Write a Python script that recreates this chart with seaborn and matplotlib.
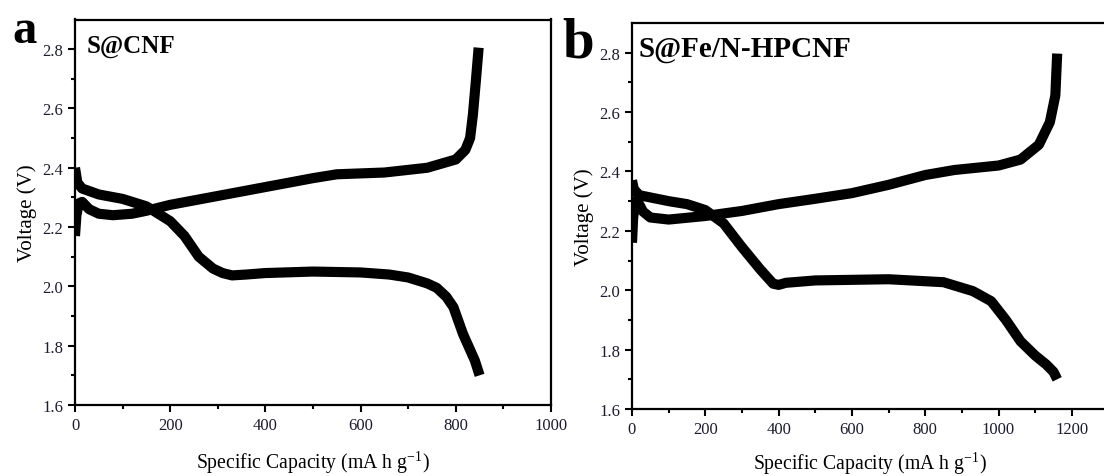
import numpy as np
import pandas as pd
import seaborn as sns
import matplotlib
matplotlib.use("Agg")
import matplotlib.pyplot as plt

# ---------------- data ----------------
# Panel a : S@CNF
a_dis_cap = [0, 5, 15, 50, 100, 150, 200, 230, 260, 290, 310, 330, 360, 400, 500, 600, 660, 700, 740, 760, 780, 795, 815, 840, 850]
a_dis_v   = [2.40, 2.35, 2.33, 2.31, 2.295, 2.27, 2.22, 2.17, 2.10, 2.06, 2.045, 2.037, 2.04, 2.045, 2.05, 2.047, 2.04, 2.03, 2.01, 1.995, 1.965, 1.93, 1.84, 1.75, 1.70]
a_chg_cap = [0, 3, 8, 15, 30, 50, 80, 120, 150, 200, 300, 400, 500, 550, 650, 740, 800, 820, 830, 836, 842, 848]
a_chg_v   = [2.17, 2.24, 2.28, 2.285, 2.26, 2.245, 2.24, 2.245, 2.255, 2.275, 2.305, 2.335, 2.365, 2.378, 2.384, 2.40, 2.428, 2.46, 2.50, 2.58, 2.69, 2.805]

# Panel b : S@Fe/N-HPCNF
b_dis_cap = [0, 5, 20, 100, 150, 200, 250, 300, 350, 385, 400, 420, 500, 700, 850, 930, 980, 1020, 1060, 1100, 1130, 1150, 1160]
b_dis_v   = [2.37, 2.34, 2.32, 2.30, 2.29, 2.27, 2.225, 2.145, 2.07, 2.022, 2.018, 2.025, 2.033, 2.037, 2.027, 1.997, 1.963, 1.90, 1.828, 1.78, 1.75, 1.725, 1.70]
b_chg_cap = [0, 3, 8, 15, 30, 50, 100, 200, 300, 400, 500, 600, 700, 800, 880, 1000, 1060, 1110, 1140, 1155, 1160]
b_chg_v   = [2.16, 2.24, 2.30, 2.30, 2.265, 2.245, 2.238, 2.25, 2.267, 2.29, 2.308, 2.327, 2.355, 2.388, 2.405, 2.42, 2.44, 2.49, 2.566, 2.656, 2.797]

panel_letters = ["a", "b"]
panel_titles = ["S@CNF", "S@Fe/N-HPCNF"]
x_limits = [(0, 1000), (0, 1300)]
x_ticks = [[0, 200, 400, 600, 800, 1000], [0, 200, 400, 600, 800, 1000, 1200]]
y_ticks = [1.6, 1.8, 2.0, 2.2, 2.4, 2.6, 2.8]
x_label = "Specific Capacity (mA h g$^{\\mathregular{-1}}$)"
y_label = "Voltage (V)"

# ---------------- figure ----------------
sns.set_theme(style="ticks")
plt.rcParams["font.family"] = ["Liberation Serif", "DejaVu Serif"]
plt.rcParams["mathtext.fontset"] = "custom"
plt.rcParams["mathtext.rm"] = "Liberation Serif"

W, H = 1104, 477
fig = plt.figure(figsize=(W / 100, H / 100), dpi=100)

def px_axes(left, right, top, bottom):
    return [left / W, 1 - bottom / H, (right - left) / W, (bottom - top) / H]

ax_a = fig.add_axes(px_axes(75, 551, 20.5, 406))
ax_b = fig.add_axes(px_axes(632, 1108.5, 24, 410))

panels = [
    (ax_a, a_dis_cap, a_dis_v, a_chg_cap, a_chg_v),
    (ax_b, b_dis_cap, b_dis_v, b_chg_cap, b_chg_v),
]
xlabel_y = [-0.112, -0.105]

tick_color = "#1c1c30"
for i, (ax, dc, dv, cc, cv) in enumerate(panels):
    df = pd.concat([
        pd.DataFrame({"cap": dc, "v": dv, "curve": "discharge"}),
        pd.DataFrame({"cap": cc, "v": cv, "curve": "charge"}),
    ], ignore_index=True)
    sns.lineplot(data=df, x="cap", y="v", units="curve", estimator=None, sort=False,
                 color="black", linewidth=7.3, ax=ax, legend=False,
                 solid_capstyle="butt", solid_joinstyle="round")
    ax.set_xlim(*x_limits[i])
    ax.set_ylim(1.6, 2.9)
    ax.set_xticks(x_ticks[i])
    ax.set_yticks(y_ticks)
    ax.set_xticks([t + 100 for t in x_ticks[i]][:-1] + ([1300] if i == 1 else []), minor=True)
    ax.set_yticks([1.7, 1.9, 2.1, 2.3, 2.5, 2.7], minor=True)
    ax.set_xticklabels([str(t) for t in x_ticks[i]])
    ax.set_yticklabels([f"{t:.1f}" for t in y_ticks])
    ax.tick_params(axis="both", which="major", direction="out", length=5, width=1.5,
                   labelsize=12, labelcolor=tick_color, color="black", pad=3.5)
    ax.tick_params(axis="both", which="minor", direction="out", length=3, width=1.5, color="black")
    for s in ax.spines.values():
        s.set_linewidth(1.6)
        s.set_color("black")
    ax.set_xlabel(x_label, fontsize=14.2, color="black", va="top")
    ax.xaxis.set_label_coords(0.5, xlabel_y[i])
    ax.set_ylabel(y_label, fontsize=15, color="black", labelpad=4)

# panel titles and letters
fig.text(87 / W, 1 - 53 / H, panel_titles[0], fontsize=18, fontweight="bold",
         va="baseline", ha="left", color="black")
fig.text(639 / W, 1 - 57 / H, panel_titles[1], fontsize=21, fontweight="bold",
         va="baseline", ha="left", color="black")
fig.text(12 / W, 1 - 43 / H, panel_letters[0], fontsize=35, fontweight="bold",
         va="baseline", ha="left", color="black")
fig.text(562 / W, 1 - 57 / H, panel_letters[1], fontsize=41, fontweight="bold",
         va="baseline", ha="left", color="black")

fig.savefig("out.png", dpi=100)
